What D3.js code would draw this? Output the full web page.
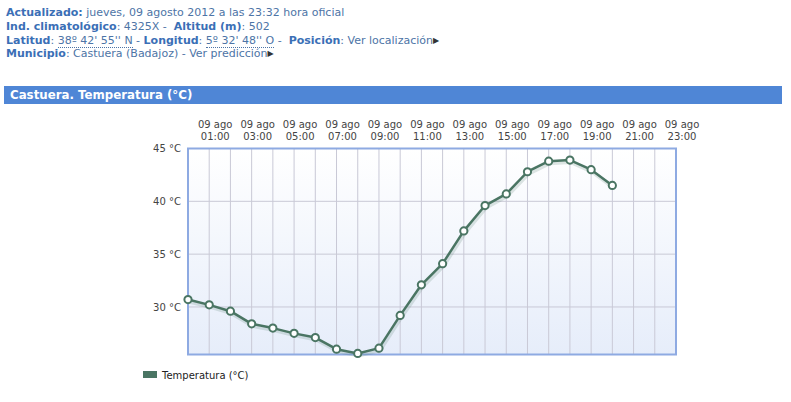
<!DOCTYPE html>
<html>
<head>
<meta charset="utf-8">
<script src="https://cdn.jsdelivr.net/npm/d3@7"></script>
<style>
body{margin:0;background:#fff;font-family:"DejaVu Sans",Verdana,sans-serif;}
#info{position:absolute;left:6px;top:6px;font-size:11px;line-height:13.8px;color:#4d74a6;white-space:nowrap;}
#info b{color:#3b6fb6;}
#info .dot{border-bottom:1px dotted #4d74a6;}
#info .tri{font-size:8px;color:#333;vertical-align:1px;}
#bar{position:absolute;left:4px;top:86px;width:778px;height:18px;background:#4f86d6;color:#fff;font-weight:bold;font-size:11.8px;line-height:18px;padding-left:6px;box-sizing:border-box;}
#svg{position:absolute;left:0;top:0;}
</style>
</head>
<body>
<div id="info">
<div><b>Actualizado:</b> jueves, 09 agosto 2012 a las 23:32 hora oficial</div>
<div><b>Ind. climatológico</b>: 4325X - &nbsp;<b>Altitud (m)</b>: 502</div>
<div><b>Latitud</b>: <span class="dot">38º 42' 55'' N</span> - <b>Longitud</b>: <span class="dot">5º 32' 48'' O</span> - &nbsp;<b>Posición</b>: Ver localización<span class="tri">&#9654;</span></div>
<div><b>Municipio</b>: Castuera (Badajoz) - Ver predicción<span class="tri">&#9654;</span></div>
</div>
<div id="bar">Castuera. Temperatura (°C)</div>
<svg id="svg" width="791" height="402"></svg>
<script>
// hourly readings, 09 ago 2012
var hours = [0,1,2,3,4,5,6,7,8,9,10,11,12,13,14,15,16,17,18,19,20];
var temps = [30.7,30.2,29.6,28.4,28.0,27.5,27.1,26.0,25.6,26.1,29.2,32.1,34.1,37.2,39.6,40.7,42.8,43.8,43.9,43.0,41.5];
var xTicks = [1,3,5,7,9,11,13,15,17,19,21,23];
var yTicks = [30,35,40,45];
var dayLabel = "09 ago";
var seriesName = "Temperatura (°C)";

var svg = d3.select("#svg");
var x = d3.scaleLinear().domain([0,23]).range([188,676]);
var y = d3.scaleLinear().domain([25.5,45]).range([354.5,148.5]);

//plot background gradient
var grad = svg.append("defs").append("linearGradient")
    .attr("id","bg").attr("x1",0).attr("y1",0).attr("x2",0).attr("y2",1);
grad.append("stop").attr("offset","0%").attr("stop-color","#ffffff");
grad.append("stop").attr("offset","100%").attr("stop-color","#e6edfa");

svg.append("rect")
    .attr("x",x(0)).attr("y",y(45))
    .attr("width",x(23)-x(0)).attr("height",y(25.5)-y(45))
    .attr("fill","url(#bg)");

//grid
svg.append("g").selectAll("line").data(d3.range(1,23)).enter()
    .append("line")
    .attr("x1",function(d){ return x(d); }).attr("x2",function(d){ return x(d); })
    .attr("y1",y(45)).attr("y2",y(25.5))
    .attr("stroke","#c9c9d6").attr("stroke-width",1);
svg.append("g").selectAll("line").data(yTicks.slice(0,3)).enter()
    .append("line")
    .attr("x1",x(0)).attr("x2",x(23))
    .attr("y1",function(d){ return y(d); }).attr("y2",function(d){ return y(d); })
    .attr("stroke","#c9c9d6").attr("stroke-width",1);

//border
svg.append("rect")
    .attr("x",x(0)).attr("y",y(45))
    .attr("width",x(23)-x(0)).attr("height",y(25.5)-y(45))
    .attr("fill","none").attr("stroke","#8eaae2").attr("stroke-width",2);

//y axis
var yAxis = svg.append("g")
    .attr("transform","translate(" + x(0) + ",0)")
    .call(d3.axisLeft(y).tickValues(yTicks).tickSize(0).tickPadding(7)
          .tickFormat(function(d){ return d + " °C"; }));
yAxis.select(".domain").remove();
yAxis.selectAll("text")
    .attr("font-family","DejaVu Sans, Verdana, sans-serif")
    .attr("font-size","10px").attr("fill","#444");

//top labels
var tl = svg.append("g").selectAll("text").data(xTicks).enter()
    .append("text")
    .attr("x",function(d){ return x(d) + 6; })
    .attr("text-anchor","middle")
    .attr("font-family","DejaVu Sans, Verdana, sans-serif")
    .attr("font-size","10px").attr("fill","#444");
tl.append("tspan").attr("x",function(d){ return x(d) + 6; }).attr("y",128).text(dayLabel);
tl.append("tspan").attr("x",function(d){ return x(d) + 6; }).attr("y",140)
    .text(function(d){ return (d < 10 ? "0" : "") + d + ":00"; });

//line
var data = hours.map(function(h,i){ return [h,temps[i]]; });
var line = d3.line().x(function(d){ return x(d[0]); }).y(function(d){ return y(d[1]); });
svg.append("path").datum(data)
    .attr("d",line).attr("transform","translate(1,2)")
    .attr("fill","none").attr("stroke","#4a7563").attr("stroke-opacity",0.18)
    .attr("stroke-width",4);
svg.append("path").datum(data)
    .attr("d",line)
    .attr("fill","none").attr("stroke","#4a7563").attr("stroke-width",2.5)
    .attr("stroke-linejoin","round");
svg.append("g").selectAll("circle").data(data).enter()
    .append("circle")
    .attr("cx",function(d){ return x(d[0]); })
    .attr("cy",function(d){ return y(d[1]); })
    .attr("r",3.6)
    .attr("fill","#fff").attr("stroke","#4a7563").attr("stroke-width",2);

//legend
svg.append("rect").attr("x",143).attr("y",371).attr("width",14).attr("height",7).attr("fill","#4a7563");
svg.append("text").attr("x",162).attr("y",378.5)
    .attr("font-family","DejaVu Sans, Verdana, sans-serif")
    .attr("font-size","10px").attr("fill","#222")
    .text(seriesName);
</script>
</body>
</html>
